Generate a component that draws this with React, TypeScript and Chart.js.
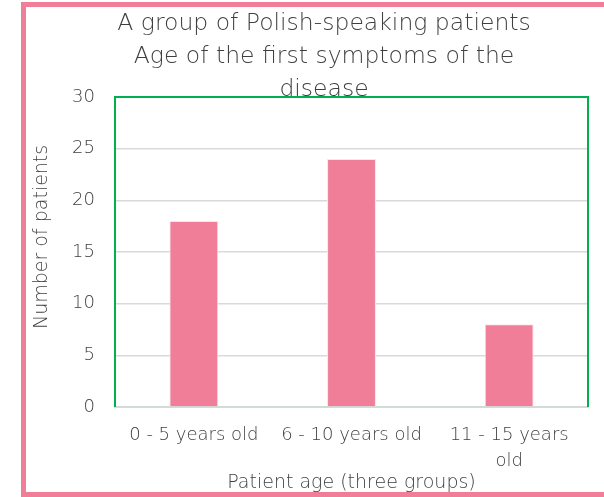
import React, { useEffect, useRef } from "react";
import { Chart, registerables } from "chart.js";

Chart.register(...registerables);

const categories: (string | string[])[] = ["0 - 5 years old", "6 - 10 years old", ["11 - 15 years", "old"]];
const patients: number[] = [18, 24, 8];
const yTicks: number[] = [0, 5, 10, 15, 20, 25, 30];
const titleLines: string[] = ["A group of Polish-speaking patients", "Age of the first symptoms of the", "disease"];
const yTitle = "     Number of patients";
const xTitle = "Patient age (three groups)";

const FONT = "'DejaVu Sans', sans-serif";
const WEIGHT: any = 200;
const TEXT = "#3f3f3f";

const framePlugin = {
  id: "frame",
  beforeDraw(chart: any) {
    const { ctx } = chart;
    ctx.save();
    ctx.fillStyle = "#ffffff";
    ctx.fillRect(0, 0, chart.width, chart.height);
    ctx.restore();
  },
  afterDraw(chart: any) {
    const { ctx, chartArea } = chart;
    const { left, top, right, bottom } = chartArea;
    ctx.save();
    ctx.strokeStyle = "#00B050";
    ctx.lineWidth = 2;
    ctx.beginPath();
    ctx.moveTo(left, bottom);
    ctx.lineTo(left, top);
    ctx.lineTo(right, top);
    ctx.lineTo(right, bottom);
    ctx.stroke();
    ctx.strokeStyle = "#F07E99";
    ctx.lineWidth = 5;
    ctx.strokeRect(23.5, 4.5, 620, 490);
    ctx.restore();
  },
};

export default function App() {
  const ref = useRef<HTMLCanvasElement>(null);
  useEffect(() => {
    if (!ref.current) return;
    const chart = new Chart(ref.current, {
      type: "bar",
      data: {
        labels: categories,
        datasets: [
          {
            data: patients,
            backgroundColor: "#F07E98",
            borderColor: "#FBE3E9",
            borderWidth: 1,
            barPercentage: 0.62,
            categoryPercentage: 0.5,
          },
        ],
      },
      options: {
        animation: false,
        responsive: false,
        maintainAspectRatio: false,
        layout: { padding: { left: 60, right: 16, top: 0, bottom: 0 } },
        plugins: {
          legend: { display: false },
          tooltip: { enabled: false },
          title: {
            display: true,
            text: titleLines,
            color: TEXT,
            font: { family: FONT, size: 23.5, weight: WEIGHT, lineHeight: 1.404 },
            padding: { top: 7.5, bottom: -9.5 },
          },
        },
        scales: {
          x: {
            grid: { display: false, drawTicks: false },
            border: { display: true, color: "#D3DBD7", width: 2 },
            ticks: {
              color: TEXT,
              font: { family: FONT, size: 18, weight: WEIGHT, lineHeight: 1.44 },
              padding: 15,
              maxRotation: 0,
              autoSkip: false,
            },
            title: {
              display: true,
              text: xTitle,
              color: TEXT,
              font: { family: FONT, size: 19, weight: WEIGHT, lineHeight: 1.2 },
              padding: { top: 0, bottom: 2.6 },
            },
            afterFit(scale: any) {
              scale.height = 90;
            },
          },
          y: {
            min: 0,
            max: 30,
            afterBuildTicks(scale: any) {
              scale.ticks = yTicks.map((v) => ({ value: v }));
            },
            grid: { color: "#D9D9D9", lineWidth: 1.5, drawTicks: false, tickLength: 0 },
            border: { display: false },
            ticks: {
              color: TEXT,
              font: { family: FONT, size: 18, weight: WEIGHT },
              padding: 20,
            },
            title: {
              display: true,
              text: yTitle,
              color: TEXT,
              font: { family: FONT, size: 19, weight: WEIGHT, lineHeight: 1.2 },
              padding: { top: -29.4, bottom: 0 },
            },
            afterFit(scale: any) {
              scale.width = 55;
            },
          },
        },
      },
      plugins: [framePlugin],
    });
    return () => chart.destroy();
  }, []);
  return (
    <div style={{ position: "absolute", left: 0, top: 0, width: 604, height: 497 }}>
      <canvas ref={ref} width={604} height={497} style={{ display: "block" }} />
    </div>
  );
}
